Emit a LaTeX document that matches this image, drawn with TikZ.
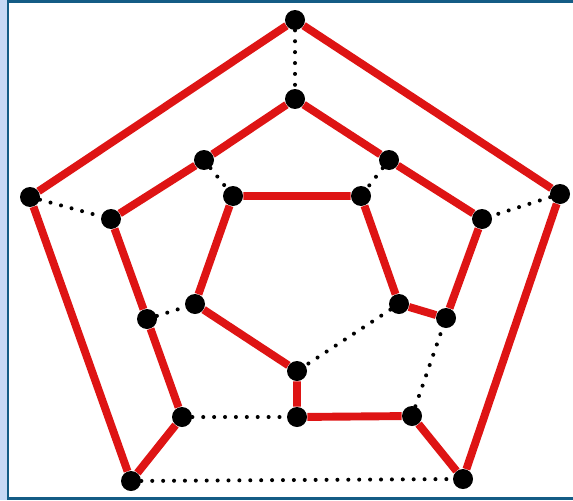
\documentclass[tikz,border=0pt]{standalone}
\begin{document}
\begin{tikzpicture}[x=0.02cm, y=-0.02cm, tour/.style={line width=4.5pt, hcRed}, chord/.style={line width=2.3pt, line cap=round, dash pattern=on 0pt off 6.2pt, black}, vtx/.style={circle, fill=black, inner sep=0pt, minimum size=0.4cm}, frame/.style={line width=1.2pt, hcFrame}]
\definecolor{hcRed}{rgb}{0.87,0.08,0.08}
\definecolor{hcFrame}{rgb}{0.08,0.36,0.52}
\definecolor{hcBand}{rgb}{0.78,0.85,0.96}
\useasboundingbox (0,0) rectangle (573,500);
\fill[hcBand] (0,0) rectangle (8,500);
\draw[frame] (8,1.5) -- (573,1.5);
\draw[frame] (8,498.5) -- (573,498.5);
\draw[frame] (8,0) -- (8,500);
% outer pentagon
\node[vtx] (o1) at (295,20) {};
\node[vtx] (o2) at (30,197) {};
\node[vtx] (o3) at (131,481) {};
\node[vtx] (o4) at (463,479) {};
\node[vtx] (o5) at (560,194) {};
% middle ring
\node[vtx] (m1) at (295,99) {};
\node[vtx] (m2) at (204,160) {};
\node[vtx] (m3) at (111,219) {};
\node[vtx] (m4) at (147,319) {};
\node[vtx] (m5) at (182,417) {};
\node[vtx] (m6) at (297,417) {};
\node[vtx] (m7) at (412,416) {};
\node[vtx] (m8) at (446,318) {};
\node[vtx] (m9) at (482,219) {};
\node[vtx] (m10) at (389,160) {};
% inner pentagon
\node[vtx] (i1) at (233,196) {};
\node[vtx] (i2) at (361,196) {};
\node[vtx] (i3) at (399,304) {};
\node[vtx] (i4) at (297,371) {};
\node[vtx] (i5) at (195,304) {};
% hamiltonian cycle
\draw[tour] (o1) -- (o2) -- (o3) -- (m5) -- (m4) -- (m3) -- (m2) -- (m1) -- (m10) -- (m9) -- (m8) -- (i3) -- (i2) -- (i1) -- (i5) -- (i4) -- (m6) -- (m7) -- (o4) -- (o5) -- (o1);
% remaining edges
\draw[chord] (o1) -- (m1);
\draw[chord] (o2) -- (m3);
\draw[chord] (o5) -- (m9);
\draw[chord] (o3) -- (o4);
\draw[chord] (m2) -- (i1);
\draw[chord] (m10) -- (i2);
\draw[chord] (m4) -- (i5);
\draw[chord] (m5) -- (m6);
\draw[chord] (m7) -- (m8);
\draw[chord] (i3) -- (i4);
\end{tikzpicture}
\end{document}
